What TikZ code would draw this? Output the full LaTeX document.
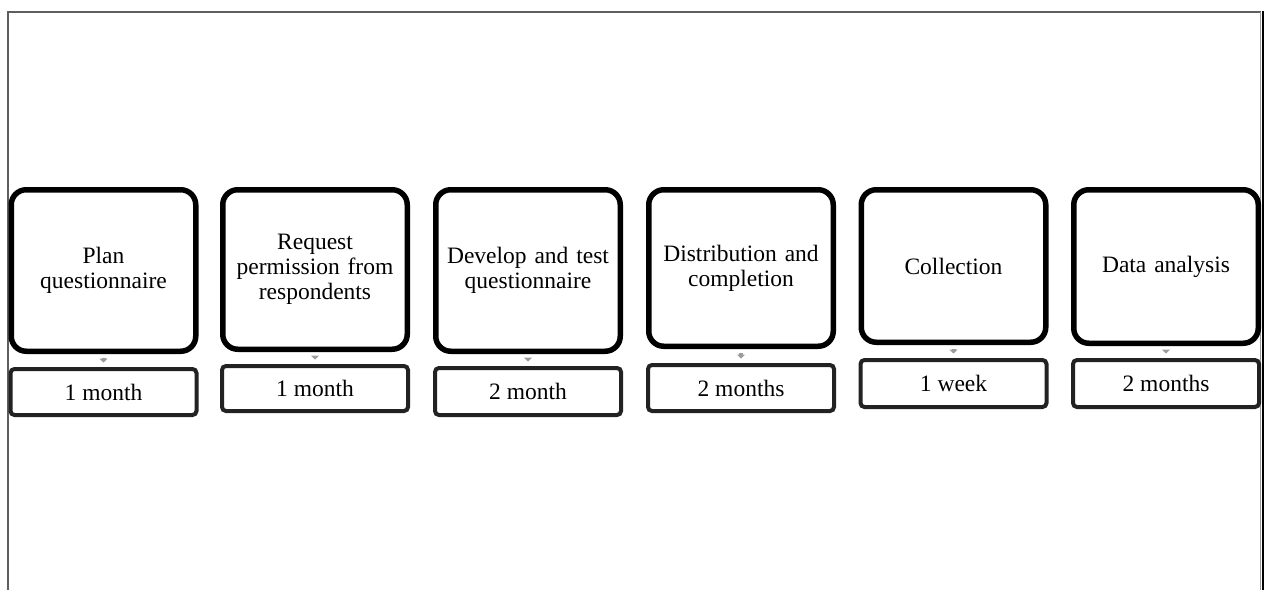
\documentclass[tikz,border=0pt]{standalone}
\usepackage{fontspec}
\setmainfont{Liberation Serif}
\usetikzlibrary{arrows.meta}
\definecolor{frameink}{HTML}{5E5E5E}
\definecolor{frameside}{HTML}{9A9A9A}
\definecolor{durink}{HTML}{222222}
\definecolor{linkgray}{HTML}{9C9C9C}
\tikzset{
  stepbox/.style={draw=black, line width=5.5pt, rounded corners=15pt, fill=white,
    minimum width=184.5pt, text width=172pt, align=center, inner sep=0pt,
    font=\fontsize{23.5}{25}\selectfont},
  durbox/.style={draw=durink, line width=4pt, rounded corners=4pt, fill=white,
    minimum width=186pt, inner sep=0pt, font=\fontsize{23.5}{25}\selectfont},
  linkarrow/.style={draw=linkgray, line width=4pt, -{Triangle[length=4pt,width=8pt]},
    shorten <=4pt, shorten >=4.5pt}
}

\begin{document}
\begin{tikzpicture}[x=1pt, y=-1pt]
\useasboundingbox (0,0) rectangle (1266,590);
\fill[white] (0,0) rectangle (1266,590);
% page frame
\draw[frameink, line width=2pt] (8,590) -- (8,12) -- (1261,12);
\draw[frameside, line width=1.5pt] (1260.3,12) -- (1260.3,590);
\draw[black, line width=1.6pt] (1263,11) -- (1263,590);

% steps with durations
\foreach \i/\cx/\bot/\ltop/\lbot/\txt/\dur in {
  1/103.5/354/367/417/{Plan\\questionnaire}/{1 month},
  2/315/352/364/413/{Request\\permission from\\respondents}/{1 month},
  3/528/354/366/417/{Develop and test\\questionnaire}/{2 month},
  4/741/349/363/413/{Distribution and\\completion}/{2 months},
  5/953.5/345/358/409/{Collection}/{1 week},
  6/1166/346/358/409/{Data analysis}/{2 months}}{
  \pgfmathsetmacro{\hh}{\bot-187-5.5}
  \pgfmathsetmacro{\cy}{(\bot+187)/2}
  \pgfmathsetmacro{\dh}{\lbot-\ltop-4}
  \pgfmathsetmacro{\dy}{(\lbot+\ltop)/2}
  \node[stepbox, minimum height=\hh pt] (s\i) at (\cx,\cy) {\txt};
  \node[durbox, minimum height=\dh pt] (d\i) at (\cx,\dy) {\dur};
  \draw[linkarrow] (s\i.south) -- (d\i.north);
}
\end{tikzpicture}
\end{document}
